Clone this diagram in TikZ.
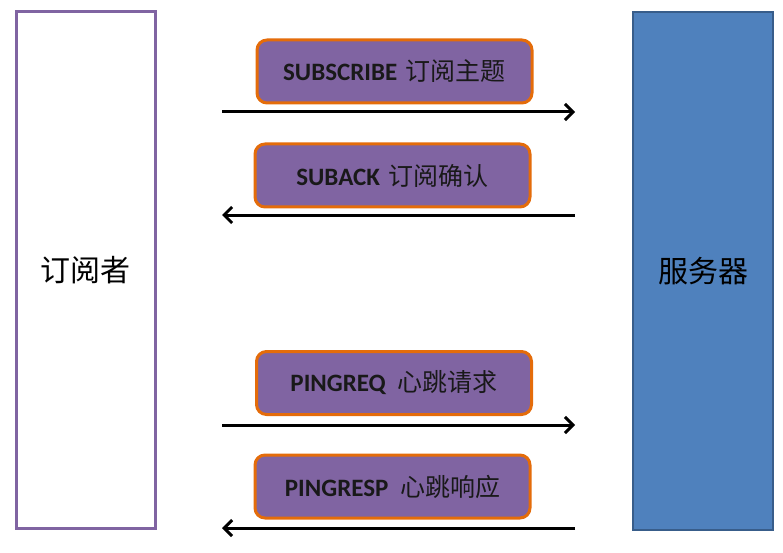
\documentclass[tikz,border=0pt]{standalone}
\usepackage{fontspec}
\setmainfont{Carlito}
\newfontfamily\cjk{Noto Sans CJK SC}
\usetikzlibrary{arrows.meta}
\definecolor{msgfill}{HTML}{8064A2}
\definecolor{msgborder}{HTML}{E46C0A}
\definecolor{serverfill}{HTML}{4F81BD}
\definecolor{serverborder}{HTML}{385D8A}
\begin{document}
\begin{tikzpicture}[x=1pt, y=-1pt,
        client_style/.style={rectangle,draw=msgfill,fill=white,line width=3pt,minimum width=139pt,minimum height=516pt,inner sep=0pt,font=\fontsize{30}{34}\selectfont\cjk},
        server_style/.style={rectangle,draw=serverborder,fill=serverfill,line width=2pt,minimum width=140pt,minimum height=518pt,inner sep=0pt,font=\fontsize{30}{34}\selectfont\cjk},
        msg_style/.style={rectangle,rounded corners=10pt,draw=msgborder,fill=msgfill,line width=3pt,minimum width=275pt,minimum height=63pt,inner sep=0pt,text=black!90,font=\fontsize{25}{29}\selectfont\bfseries},
        edge_style/.style={draw=black, line width=3pt,-{Straight Barb[length=8pt,width=16pt]}}]

        \useasboundingbox (0,0) rectangle (783,553);

        \node [client_style] (client) at (85.5,270) {订阅者};

        \node [server_style] (server) at (703,271) {服务器};

        \node [msg_style] (m1) at (394.5,71.5) {SUBSCRIBE\hspace{3pt} {\cjk\mdseries 订阅主题}};

        \node [msg_style] (m2) at (392.5,175.5) {SUBACK\hspace{3pt} {\cjk\mdseries 订阅确认}};

        \node [msg_style] (m3) at (394,383) {PINGREQ\hspace{6pt} {\cjk\mdseries 心跳请求}};

        \node [msg_style] (m4) at (392.5,486.5) {PINGRESP\hspace{6pt} {\cjk\mdseries 心跳响应}};

        \coordinate (a1l) at (222,112);
        \coordinate (a1r) at (575,112);
        \coordinate (a2l) at (222,215);
        \coordinate (a2r) at (575,215);
        \coordinate (a3l) at (222,425);
        \coordinate (a3r) at (575,425);
        \coordinate (a4l) at (222,528);
        \coordinate (a4r) at (575,528);

        \draw [edge_style] (a1l) -- (a1r);

        \draw [edge_style] (a2r) -- (a2l);

        \draw [edge_style] (a3l) -- (a3r);

        \draw [edge_style] (a4r) -- (a4l);

        \end{tikzpicture}
\end{document}
